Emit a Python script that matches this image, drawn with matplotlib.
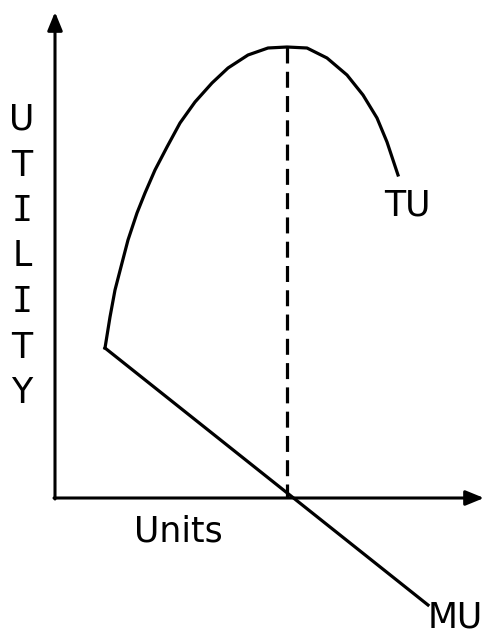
import matplotlib.pyplot as plt

# points (pixel coords, y grows downward)
tu_x = [105, 110, 115, 122, 128, 137, 145, 155, 167, 180, 195, 212, 228,
        248, 268, 287, 307, 327, 347, 363, 377, 387, 398]
tu_y = [348, 317, 290, 263, 240, 213, 193, 170, 147, 123, 102, 83, 68,
        55, 48, 47, 48, 58, 75, 95, 118, 142, 175]
mu_x = [105, 428]
mu_y = [348, 605]
peak_x = 287
axis_origin = (55, 498)
y_letters = list("UTILITY")

fig = plt.figure(figsize=(4.88, 6.35), dpi=100)
ax = fig.add_axes([0, 0, 1, 1])
ax.set_xlim(0, 488)
ax.set_ylim(635, 0)
ax.axis('off')

ox, oy = axis_origin
arrow = dict(arrowstyle='-|>,head_length=1.1,head_width=0.45', color='black', lw=2.2,
             shrinkA=0, shrinkB=0)
ax.annotate('', xy=(ox, 12), xytext=(ox, oy + 1), arrowprops=arrow)
ax.annotate('', xy=(484, oy), xytext=(ox - 1, oy), arrowprops=arrow)

ax.plot(tu_x, tu_y, color='black', lw=2.3, solid_joinstyle='round')
ax.plot(mu_x, mu_y, color='black', lw=2.3)
ax.plot([peak_x, peak_x], [tu_y[tu_x.index(peak_x)], oy], color='black', lw=2.3,
        linestyle=(0, (5, 2.6)))

# Verdana-like capitals; the I's have serifs in the original
for i, ch in enumerate(y_letters):
    fam = 'DejaVu Sans Mono' if ch == 'I' else 'DejaVu Sans'
    ax.text(22, 120 + i * 45.5, ch, fontsize=25, family=fam,
            ha='center', va='center')

ax.text(384, 205, 'TU', fontsize=25, ha='left', va='center')
ax.text(178, 531, 'Units', fontsize=25, ha='center', va='center')
ax.text(428, 617, 'MU', fontsize=25, ha='left', va='center')

fig.savefig('out.png', dpi=100, facecolor='white')
